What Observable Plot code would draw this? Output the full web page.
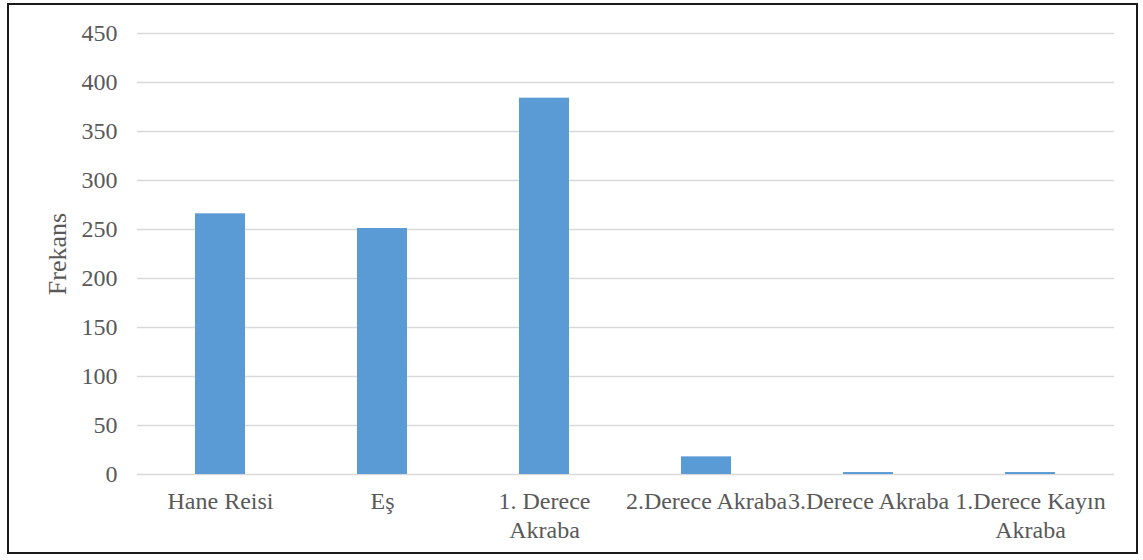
<!DOCTYPE html>
<html>
<head>
<meta charset="utf-8">
<script src="https://cdn.jsdelivr.net/npm/d3@7"></script>
<script src="https://cdn.jsdelivr.net/npm/@observablehq/plot@0.6"></script>
<style>
  html, body { margin: 0; padding: 0; background: #fff; }
  #wrap { position: relative; width: 1143px; height: 560px; }
  #border { position: absolute; left: 7px; top: 3px; width: 1131px; height: 551px; border: 2px solid #1a1a1a; box-sizing: border-box; pointer-events: none; }
</style>
</head>
<body>
<div id="wrap"><div id="border"></div></div>
<script>
// Household relationship categories and their frequencies
const categories = ["Hane Reisi", "Eş", "1. Derece Akraba", "2.Derece Akraba", "3.Derece Akraba", "1.Derece Kayın Akraba"];
const tickLabels = ["Hane Reisi", "Eş", "1. Derece\nAkraba", "2.Derece Akraba", "3.Derece Akraba", "1.Derece Kayın\nAkraba"];
const frequencies = [266, 251, 384, 18, 2, 2];
const yTicks = [0, 50, 100, 150, 200, 250, 300, 350, 400, 450];

const data = categories.map((c, i) => ({category: c, value: frequencies[i]}));
const labelOf = new Map(categories.map((c, i) => [c, tickLabels[i]]));

const textColor = "#595959";

const chart = Plot.plot({
  width: 1143,
  height: 560,
  marginLeft: 137,
  marginRight: 29,
  marginTop: 33,
  marginBottom: 86,
  style: {fontFamily: "'Liberation Serif', 'Times New Roman', serif", fontSize: "24px", color: textColor, background: "transparent"},
  x: {domain: categories, paddingInner: 0.69, paddingOuter: 0.345},
  y: {domain: [0, 450]},
  marks: [
    Plot.gridY(yTicks, {stroke: "#d9d9d9", strokeOpacity: 1, strokeWidth: 1.5}),
    Plot.barY(data, {x: "category", y: "value", fill: "#5b9bd5"}),
    Plot.axisY(yTicks, {tickSize: 0, tickPadding: 20, label: null, fill: textColor, fontSize: 24}),
    Plot.axisX({tickSize: 0, tickPadding: 14, label: null, fill: textColor, fontSize: 24, lineHeight: 1.2, tickFormat: d => labelOf.get(d)}),
    Plot.text(["Frekans"], {frameAnchor: "left", dx: -80, rotate: -90, textAnchor: "middle", lineAnchor: "middle", fill: textColor, fontSize: 26})
  ]
});

document.getElementById("wrap").prepend(chart);
</script>
</body>
</html>
